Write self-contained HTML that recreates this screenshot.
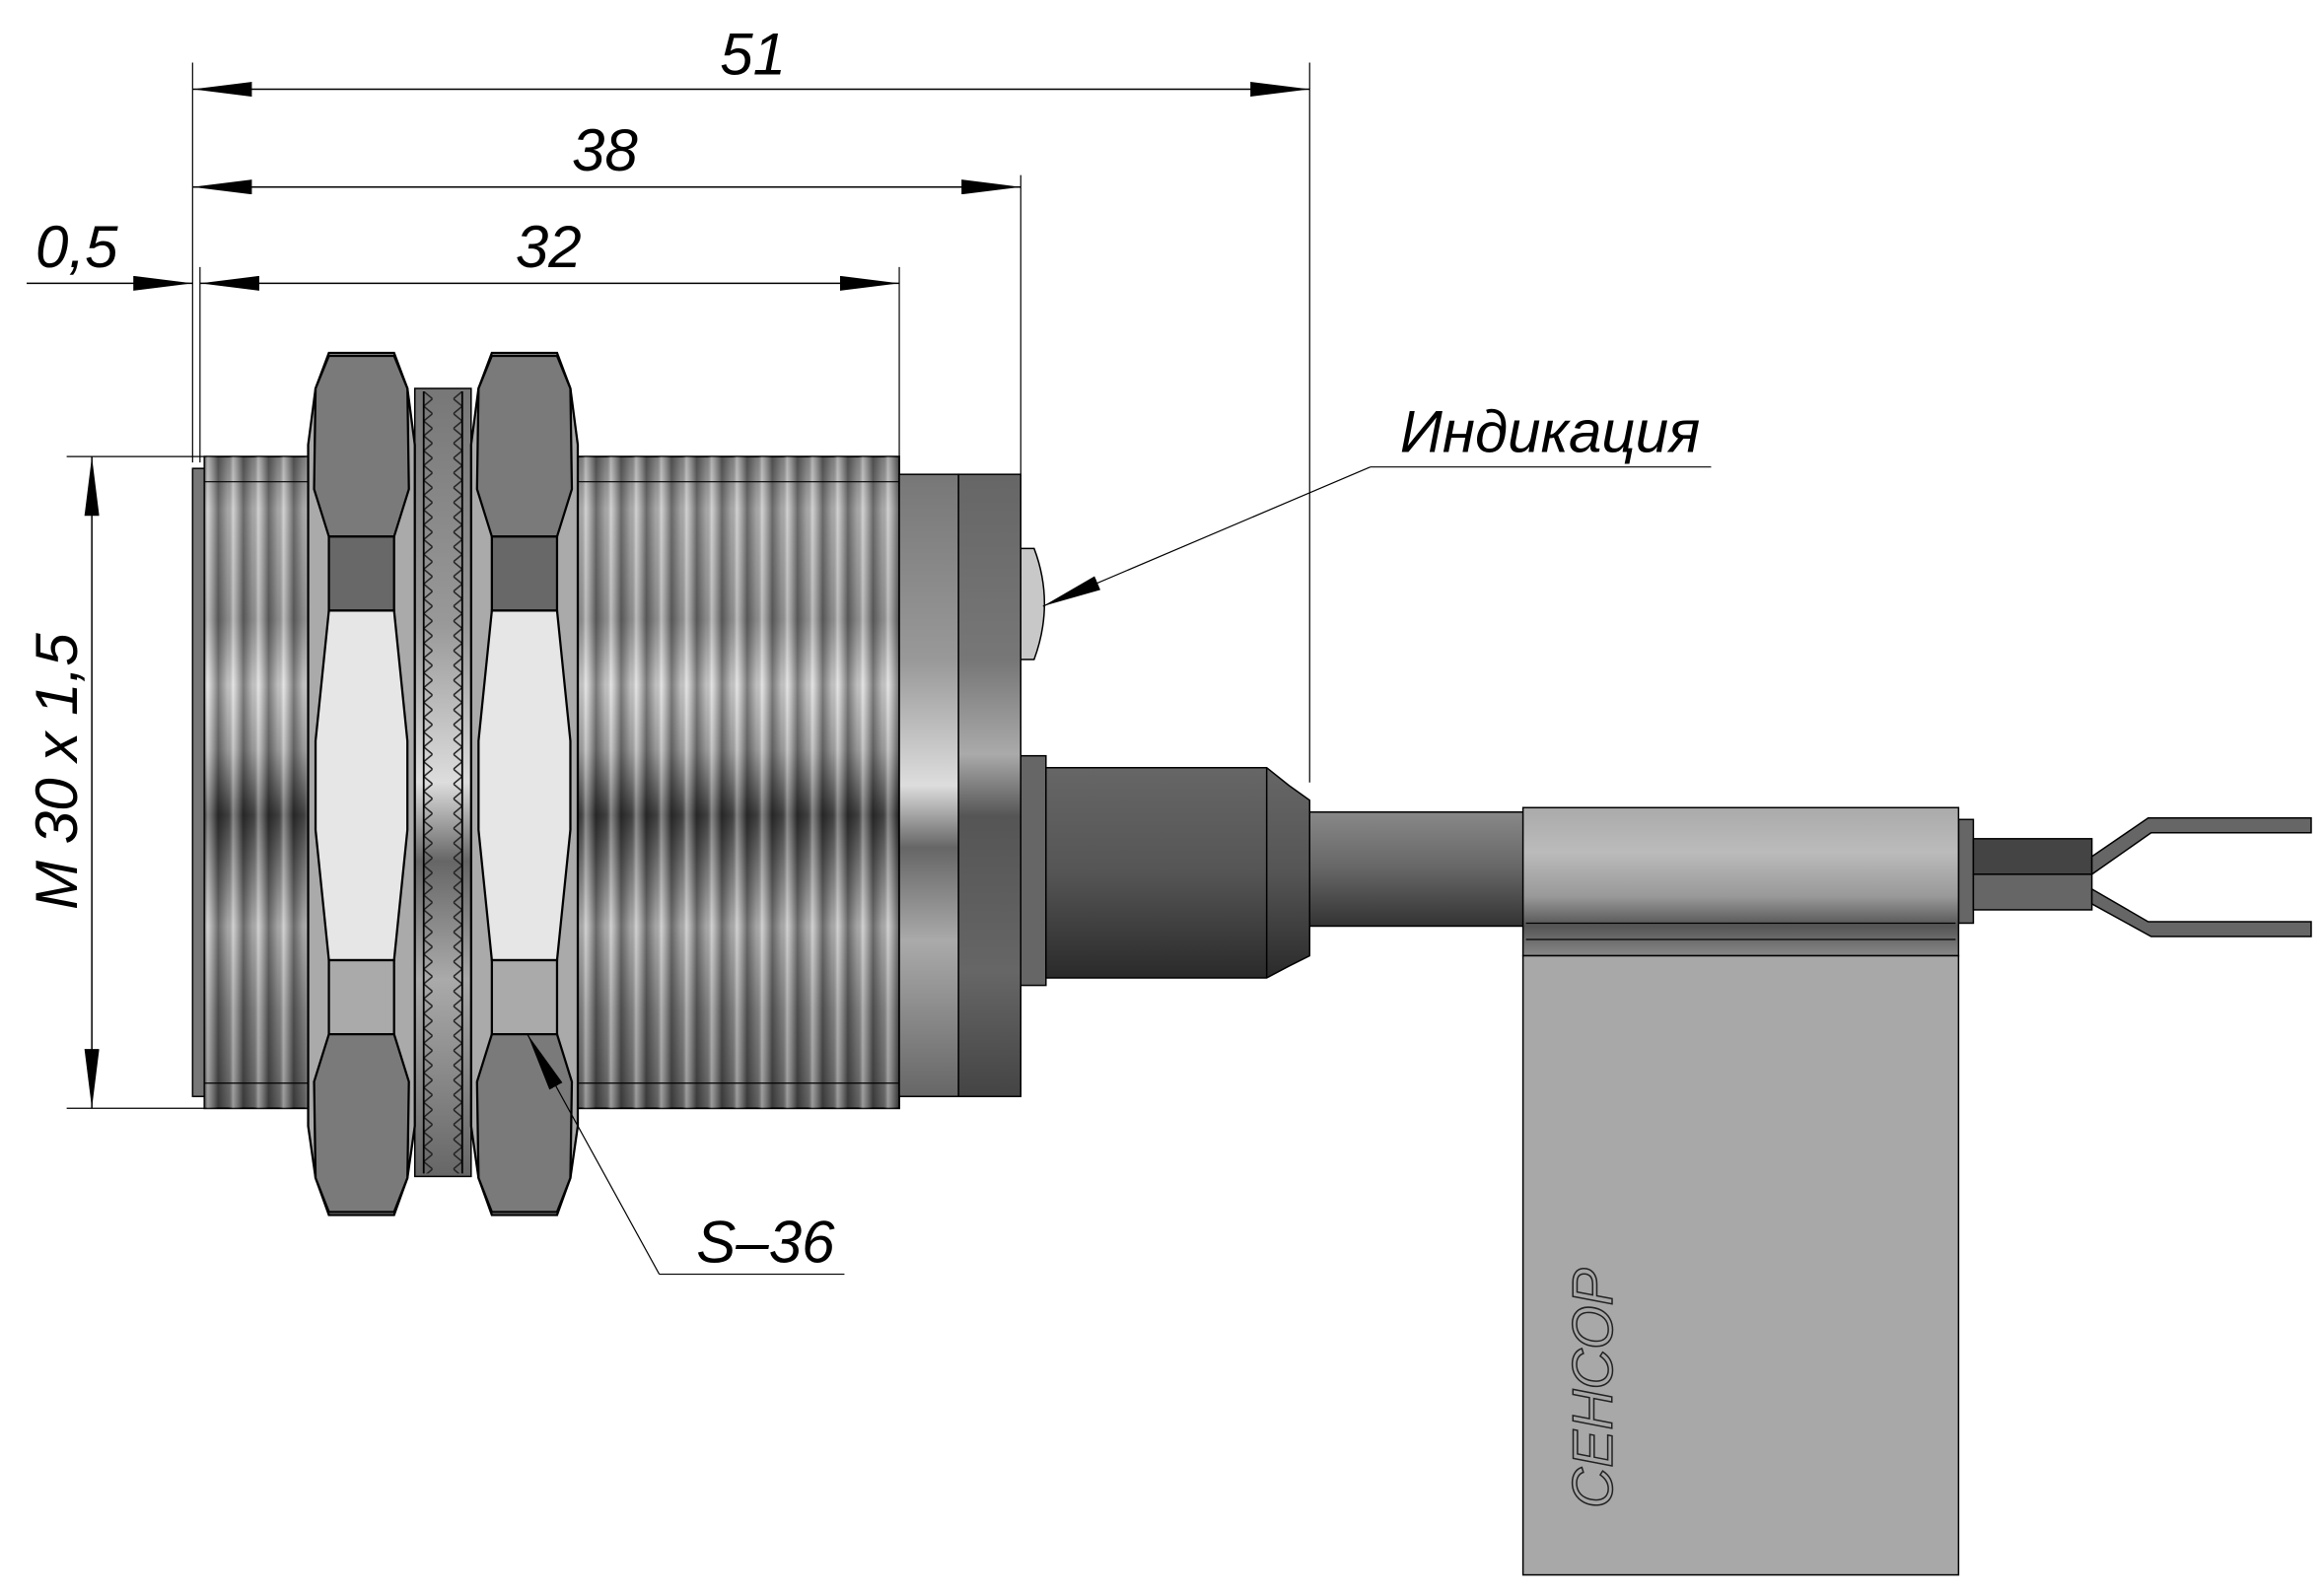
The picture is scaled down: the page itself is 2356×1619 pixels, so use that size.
<!DOCTYPE html>
<html><head><meta charset="utf-8"><style>
html,body{margin:0;padding:0;background:#fff}
svg{display:block}
text{font-family:"Liberation Sans",sans-serif;font-style:italic;fill:#000}
</style></head><body>
<svg width="2356" height="1619" viewBox="0 0 1568 1077" xmlns="http://www.w3.org/2000/svg">
<defs>
<linearGradient id="vb" x1="0" y1="0" x2="0" y2="1">
<stop offset="0" stop-color="#888"/><stop offset="0.08" stop-color="#bbb"/><stop offset="0.25" stop-color="#999"/>
<stop offset="0.35" stop-color="#d8d8d8"/><stop offset="0.45" stop-color="#aaa"/><stop offset="0.55" stop-color="#444"/>
<stop offset="0.62" stop-color="#777"/><stop offset="0.72" stop-color="#bbb"/><stop offset="0.85" stop-color="#888"/><stop offset="1" stop-color="#666"/>
</linearGradient>
<linearGradient id="stripe" x1="0" y1="0" x2="1" y2="0">
<stop offset="0" stop-color="#000" stop-opacity="0.45"/><stop offset="0.4" stop-color="#000" stop-opacity="0.1"/>
<stop offset="0.6" stop-color="#fff" stop-opacity="0.35"/><stop offset="1" stop-color="#000" stop-opacity="0.4"/>
</linearGradient>
<pattern id="thr" width="17" height="10" patternUnits="userSpaceOnUse" x="130">
<rect width="17" height="10" fill="url(#stripe)"/>
</pattern>
<pattern id="serL" width="12" height="10" patternUnits="userSpaceOnUse" x="286" y="264">
<path d="M0,0 L6,5 L0,10" fill="none" stroke="#222" stroke-width="1"/>
</pattern>
<pattern id="serR" width="12" height="10" patternUnits="userSpaceOnUse" x="300" y="264">
<path d="M12,0 L6,5 L12,10" fill="none" stroke="#222" stroke-width="1"/>
</pattern>
<linearGradient id="dark" x1="0" y1="0" x2="0" y2="1">
<stop offset="0" stop-color="#666"/><stop offset="0.3" stop-color="#777"/><stop offset="0.45" stop-color="#aaa"/><stop offset="0.55" stop-color="#555"/><stop offset="0.8" stop-color="#666"/><stop offset="1" stop-color="#444"/>
</linearGradient>
<linearGradient id="ring" x1="0" y1="0" x2="0" y2="1">
<stop offset="0" stop-color="#777"/><stop offset="0.3" stop-color="#999"/><stop offset="0.5" stop-color="#ddd"/><stop offset="0.6" stop-color="#666"/><stop offset="0.75" stop-color="#aaa"/><stop offset="1" stop-color="#666"/>
</linearGradient>
<linearGradient id="gland" x1="0" y1="0" x2="0" y2="1">
<stop offset="0" stop-color="#666"/><stop offset="0.5" stop-color="#555"/><stop offset="1" stop-color="#2a2a2a"/>
</linearGradient>
<linearGradient id="cable" x1="0" y1="0" x2="0" y2="1">
<stop offset="0" stop-color="#888"/><stop offset="0.5" stop-color="#666"/><stop offset="1" stop-color="#333"/>
</linearGradient>
<linearGradient id="tag" x1="0" y1="0" x2="0" y2="1">
<stop offset="0" stop-color="#aaa"/><stop offset="0.3" stop-color="#bbb"/><stop offset="0.6" stop-color="#999"/><stop offset="0.8" stop-color="#555"/><stop offset="1" stop-color="#888"/>
</linearGradient>
<marker id="a" viewBox="0 0 40 10" refX="40" refY="5" markerWidth="40" markerHeight="10" markerUnits="userSpaceOnUse" orient="auto-start-reverse">
<path d="M0,0 L40,5 L0,10 Z" fill="#000"/></marker>
</defs>

<g stroke="#000" stroke-width="0.8" fill="none">
<line x1="130" y1="42" x2="130" y2="312"/>
<line x1="135" y1="180" x2="135" y2="312"/>
<line x1="884" y1="42" x2="884" y2="528"/>
<line x1="689" y1="118" x2="689" y2="322"/>
<line x1="607" y1="180" x2="607" y2="308"/>
<line x1="45" y1="308" x2="140" y2="308"/>
<line x1="45" y1="748" x2="140" y2="748"/>
</g>
<g stroke="#000" stroke-width="1">
<line x1="130" y1="60" x2="884" y2="60" marker-start="url(#a)" marker-end="url(#a)"/>
<line x1="130" y1="126" x2="689" y2="126" marker-start="url(#a)" marker-end="url(#a)"/>
<line x1="135" y1="191" x2="607" y2="191" marker-start="url(#a)" marker-end="url(#a)"/>
<line x1="18" y1="191" x2="130" y2="191" marker-end="url(#a)"/>
<line x1="62" y1="308" x2="62" y2="748" marker-start="url(#a)" marker-end="url(#a)"/>
</g>
<g font-size="40">
<text x="486" y="50">51</text>
<text x="386" y="115">38</text>
<text x="348" y="180">32</text>
<text x="24" y="180">0,5</text>
<text transform="translate(52,614) rotate(-90)">M 30 x 1,5</text>
</g>

<rect x="130" y="316" width="8" height="424" fill="#777" stroke="#000"/>
<rect x="138" y="308" width="469" height="440" fill="url(#vb)" stroke="#000" stroke-width="1.2"/>
<rect x="138" y="308" width="469" height="440" fill="url(#thr)"/>
<line x1="138" y1="325" x2="607" y2="325" stroke="#000" stroke-width="0.8"/>
<line x1="138" y1="731" x2="607" y2="731" stroke="#000" stroke-width="0.8"/>

<rect x="607" y="320" width="40" height="420" fill="url(#ring)" stroke="#000"/>
<rect x="647" y="320" width="42" height="420" fill="url(#dark)" stroke="#000"/>
<path d="M689,370 L698,370 Q712,407 698,445 L689,445 Z" fill="#c8c8c8" stroke="#000"/>
<rect x="689" y="510" width="17" height="155" fill="#666" stroke="#000"/>
<path d="M706,518 L855,518 L870,530 L884,540 L884,645 L870,652 L855,660 L706,660 Z" fill="url(#gland)" stroke="#000"/>
<line x1="855" y1="518" x2="855" y2="660" stroke="#000"/>
<rect x="884" y="548" width="146" height="77" fill="url(#cable)" stroke="#000"/>
<rect x="1322" y="553" width="10" height="70" fill="#666" stroke="#000"/>
<rect x="1332" y="566" width="80" height="24" fill="#444" stroke="#000"/>
<rect x="1332" y="590" width="80" height="24" fill="#666" stroke="#000"/>
<path d="M1412,578 L1450,552 L1560,552 L1560,562 L1452,562 L1412,590 Z" fill="#666" stroke="#000"/>
<path d="M1412,600 L1450,622 L1560,622 L1560,632 L1452,632 L1412,610 Z" fill="#666" stroke="#000"/>
<rect x="1028" y="545" width="294" height="100" fill="url(#tag)" stroke="#000"/>
<rect x="1028" y="645" width="294" height="418" fill="#a8a8a8" stroke="#000"/>
<line x1="1030" y1="623" x2="1320" y2="623" stroke="#000" stroke-width="0.8"/>
<line x1="1030" y1="634" x2="1320" y2="634" stroke="#000" stroke-width="0.8"/>
<text transform="translate(1088,1018) rotate(-90)" font-size="38" style="fill:none;stroke:#222;stroke-width:1">СЕНСОР</text>

<rect x="280" y="262" width="38" height="532" fill="url(#ring)" stroke="#000"/>
<rect x="286" y="264" width="6" height="528" fill="url(#serL)"/>
<rect x="306" y="264" width="6" height="528" fill="url(#serR)"/>
<path d="M286,264 L286,792 M312,264 L312,792" stroke="#000" stroke-width="1.2"/>

<g id="nut" stroke="#000" stroke-width="1.5">
<path d="M222,238 L266,238 L275,262 L280,300 L280,760 L275,795 L266,820 L222,820 L213,795 L208,760 L208,300 L213,262 Z" fill="#aaa"/>
<path d="M222,240 L266,240 L275,262 L276,330 L266,362 L222,362 L212,330 L213,262 Z" fill="#7a7a7a"/>
<rect x="222" y="362" width="44" height="50" fill="#686868"/>
<path d="M222,412 L266,412 L275,500 L275,560 L266,648 L222,648 L213,560 L213,500 Z" fill="#e6e6e6"/>
<rect x="222" y="648" width="44" height="50" fill="#aaa"/>
<path d="M222,698 L266,698 L276,730 L275,795 L266,818 L222,818 L213,795 L212,730 Z" fill="#7a7a7a"/>
</g>
<use href="#nut" x="110"/>

<g stroke="#000" stroke-width="0.8" fill="none">
<line x1="925" y1="315" x2="1155" y2="315"/>
<line x1="925" y1="315" x2="704" y2="409" marker-end="url(#a)"/>
<line x1="445" y1="860" x2="570" y2="860"/>
<line x1="445" y1="860" x2="356" y2="698" marker-end="url(#a)"/>
</g>
<text x="945" y="305" font-size="40">Индикация</text>
<text x="470" y="852" font-size="40">S–36</text>
</svg>
</body></html>
